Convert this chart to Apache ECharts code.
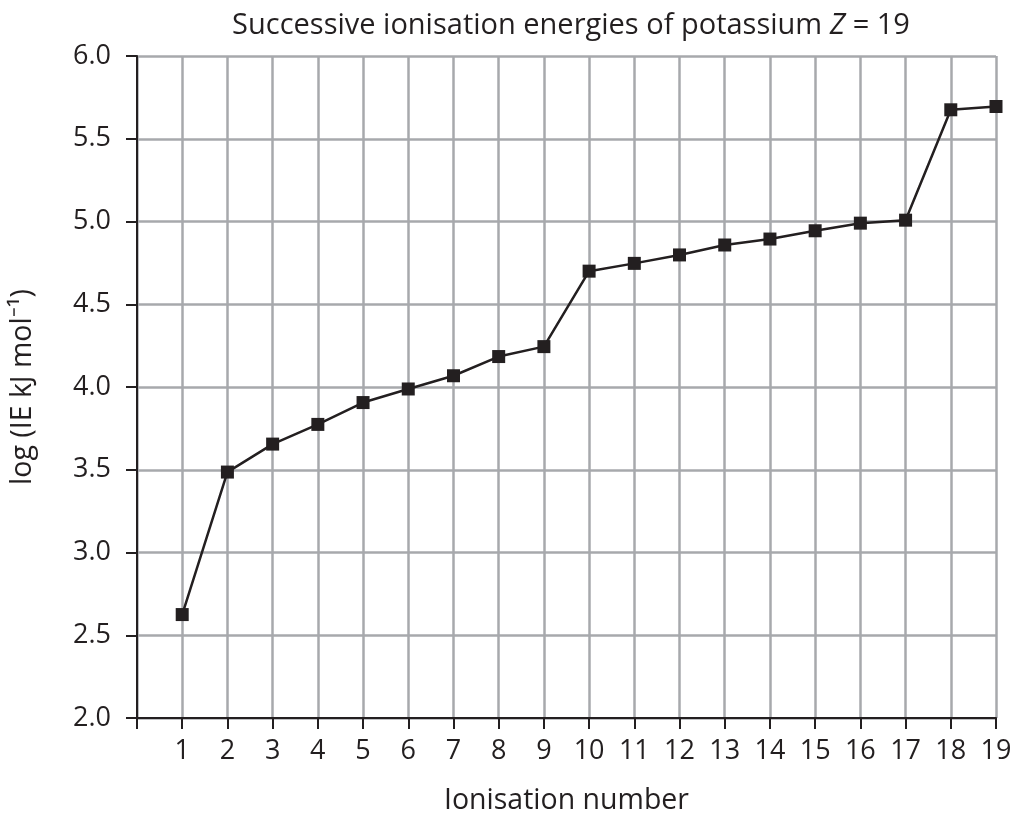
<!DOCTYPE html>
<html>
<head>
<meta charset="utf-8">
<script src="https://cdn.jsdelivr.net/npm/echarts@6/dist/echarts.min.js"></script>
<style>
html,body{margin:0;padding:0;background:#fff;}
#chart{width:1015px;height:820px;}
</style>
</head>
<body>
<div id="chart"></div>
<script>
const ionisationNumber = [1,2,3,4,5,6,7,8,9,10,11,12,13,14,15,16,17,18,19];
const logIE = [2.625,3.486,3.655,3.774,3.906,3.988,4.068,4.184,4.244,4.700,4.747,4.798,4.858,4.894,4.944,4.990,5.008,5.675,5.695];
const titleText = 'Successive ionisation energies of potassium {i|Z} = 19';
const xAxisName = 'Ionisation number';
const yAxisName = 'log (IE kJ mol\u207B\u00B9)';

const ink = '#231f20';
const gridGrey = '#a7a9ac';
const font = 'Open Sans';

const chart = echarts.init(document.getElementById('chart'), null, {renderer:'canvas'});
chart.setOption({
  animation: false,
  backgroundColor: '#fff',
  title: {
    text: titleText,
    left: 566,
    top: 6,
    textAlign: 'center',
    textStyle: {
      fontFamily: font, fontSize: 29, fontWeight: 'normal', color: ink,
      rich: { i: { fontFamily: font, fontSize: 29, fontStyle: 'italic', color: ink } }
    }
  },
  grid: { left: 137, right: 19, top: 56, bottom: 96, containLabel: false },
  xAxis: {
    type: 'value', min: 0, max: 19, interval: 1,
    name: xAxisName, nameLocation: 'middle', nameGap: 68,
    nameTextStyle: { fontFamily: font, fontSize: 28.5, color: ink },
    axisLine: { show: true, onZero: false, lineStyle: { color: ink, width: 2 } },
    axisTick: { show: true, inside: false, length: 11, lineStyle: { color: ink, width: 2 } },
    axisLabel: { margin: 20, fontFamily: font, fontSize: 27, color: ink,
      formatter: v => v === 0 ? '' : String(v) },
    splitLine: { show: true, lineStyle: { color: gridGrey, width: 2.5 } }
  },
  yAxis: {
    type: 'value', min: 2, max: 6, interval: 0.5,
    name: yAxisName, nameLocation: 'middle', nameGap: 100, nameRotate: 90,
    nameTextStyle: { fontFamily: font, fontSize: 28.5, color: ink },
    axisLine: { show: true, onZero: false, lineStyle: { color: ink, width: 2 } },
    axisTick: { show: true, inside: false, length: 11, lineStyle: { color: ink, width: 2 } },
    axisLabel: { margin: 26, fontFamily: font, fontSize: 27, color: ink,
      formatter: v => v.toFixed(1) },
    splitLine: { show: true, lineStyle: { color: gridGrey, width: 2.5 } }
  },
  series: [{
    type: 'line',
    data: ionisationNumber.map((x, i) => [x, logIE[i]]),
    symbol: 'rect', symbolSize: 13,
    lineStyle: { color: ink, width: 2.5 },
    itemStyle: { color: ink },
    z: 5
  }]
});
</script>
</body>
</html>
